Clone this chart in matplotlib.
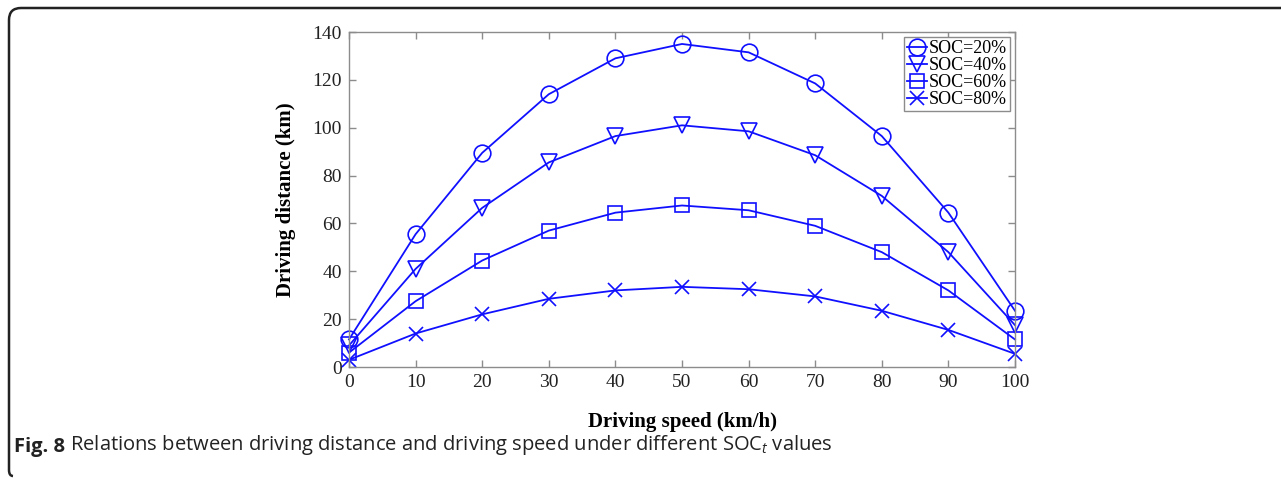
import matplotlib
matplotlib.use("Agg")
import matplotlib.pyplot as plt
from matplotlib.path import Path
from matplotlib.patches import PathPatch

# driving speed (km/h) and driving distance (km) for each SOC level
speed = [0, 10, 20, 30, 40, 50, 60, 70, 80, 90, 100]
soc20 = [11.5, 55.5, 89.5, 114, 129, 135, 131.5, 118.5, 96.5, 64.5, 23.5]
soc40 = [9, 41, 66.5, 85.5, 96.5, 101, 98.5, 88.5, 71.5, 48, 17.5]
soc60 = [6, 27.5, 44.5, 57, 64.5, 67.5, 65.5, 59, 48, 32, 11.5]
soc80 = [3, 14, 22, 28.5, 32, 33.5, 32.5, 29.5, 23.5, 15.5, 5.5]
labels = ["SOC=20%", "SOC=40%", "SOC=60%", "SOC=80%"]
markers = ["o", "v", "s", "x"]

plt.rcParams["font.family"] = "Liberation Serif"
plt.rcParams["mathtext.fontset"] = "custom"
plt.rcParams["mathtext.rm"] = "Open Sans"
plt.rcParams["mathtext.it"] = "Open Sans:italic"

W, H = 1281, 478
fig = plt.figure(figsize=(W / 100, H / 100), dpi=100)
ax = fig.add_axes([349 / W, 1 - 367 / H, (1015 - 349) / W, (367 - 32) / H])

blue = "#1010ff"
sizes = [12, 12, 10, 10]
for ys, m, lab, ms in zip([soc20, soc40, soc60, soc80], markers, labels, sizes):
    ax.plot(speed, ys, color=blue, lw=1.3, marker=m, ms=ms, mfc="none",
            mec=blue, mew=1.2, label=lab, clip_on=False)

ax.set_xlim(0, 100)
ax.set_ylim(0, 140)
ax.set_xticks(range(0, 101, 10))
ax.set_yticks(range(0, 141, 20))
for s in ax.spines.values():
    s.set_color("#8c8c8c")
    s.set_linewidth(1.0)
ax.tick_params(direction="in", top=True, right=True, length=5, width=1.0,
               color="#8c8c8c", labelsize=14, labelcolor="#222222", pad=5)
ax.set_xlabel("Driving speed (km/h)", fontsize=15, fontweight="bold", labelpad=15)
ax.set_ylabel("Driving distance (km)", fontsize=15, fontweight="bold", labelpad=12)

leg = ax.legend(loc="upper right", fontsize=13, handlelength=1.1,
                handletextpad=0.1, borderpad=0.15, labelspacing=0.0,
                borderaxespad=0.3, fancybox=False, framealpha=1)
leg.get_frame().set_edgecolor("#8c8c8c")
leg.get_frame().set_linewidth(1.0)

# bracket-like border with rounded corners on the left
r = 12
x0, y0, y1 = 9, 8, 476
verts = [(W, y0), (x0 + r, y0), (x0, y0), (x0, y0 + r), (x0, y1 - 6), (x0, y1), (x0 + 4, y1)]
codes = [Path.MOVETO, Path.LINETO, Path.CURVE3, Path.CURVE3, Path.LINETO, Path.CURVE3, Path.CURVE3]
verts = [(vx / W, 1 - vy / H) for vx, vy in verts]
fig.patches.append(PathPatch(Path(verts, codes), transform=fig.transFigure,
                             fill=False, lw=1.8, color="#222222"))

cap = fig.text(14 / W, 1 - 452 / H, "Fig. 8", fontsize=14.5, fontweight="bold",
               family="Open Sans", color="#222222", va="baseline")
ax.annotate(" Relations between driving distance and driving speed under different SOC$_t$ values",
            xy=(1, 0), xycoords=cap, va="bottom", ha="left", fontsize=14.5,
            family="Open Sans", color="#222222", annotation_clip=False)

fig.savefig("out.png", dpi=100)
